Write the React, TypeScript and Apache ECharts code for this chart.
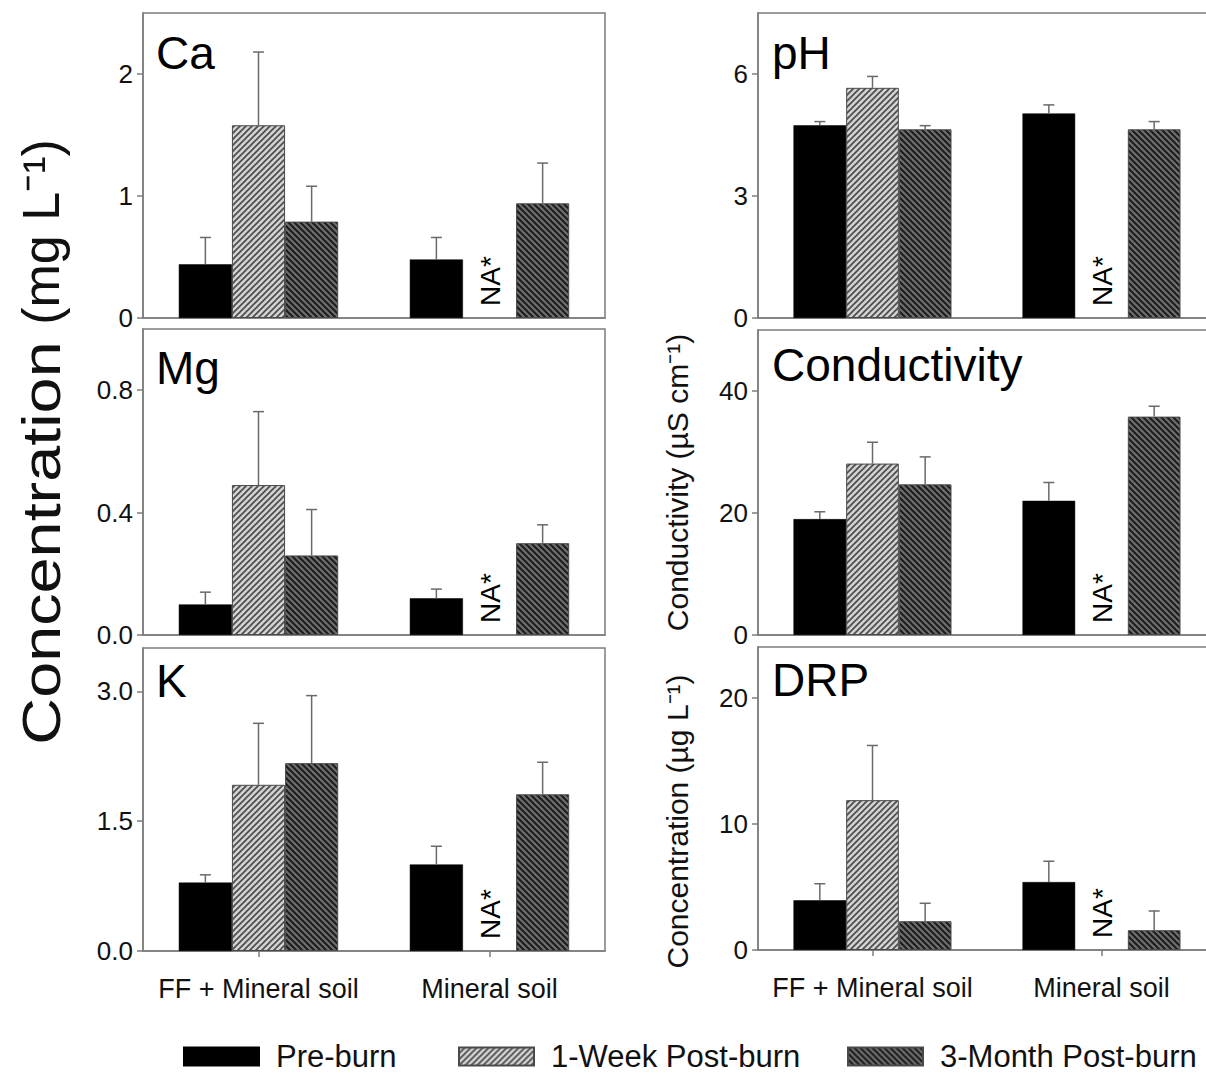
import React, { useEffect, useRef } from 'react';
import * as echarts from 'echarts';

// ---------- data ----------
const categories = ['FF + Mineral soil', 'Mineral soil'];
const treatments = ['Pre-burn', '1-Week Post-burn', '3-Month Post-burn'];

// rows: [Pre-burn, 1-Week, 3-Month]; columns: [FF + Mineral soil, Mineral soil]
const caMean = [[0.44, 0.48], [1.58, null], [0.79, 0.94]];
const caErr = [[0.22, 0.18], [0.60, null], [0.29, 0.33]];
const mgMean = [[0.10, 0.12], [0.49, null], [0.26, 0.30]];
const mgErr = [[0.04, 0.03], [0.24, null], [0.15, 0.06]];
const kMean = [[0.79, 1.00], [1.92, null], [2.17, 1.81]];
const kErr = [[0.09, 0.21], [0.71, null], [0.78, 0.37]];
const phMean = [[4.74, 5.03], [5.66, null], [4.64, 4.64]];
const phErr = [[0.09, 0.21], [0.28, null], [0.09, 0.19]];
const condMean = [[19.0, 22.0], [28.1, null], [24.7, 35.8]];
const condErr = [[1.2, 3.0], [3.5, null], [4.5, 1.7]];
const drpMean = [[3.94, 5.38], [11.87, null], [2.28, 1.57]];
const drpErr = [[1.31, 1.65], [4.33, null], [1.42, 1.52]];

const caTicks = [0, 1, 2];
const mgTicks = [0, 0.4, 0.8];
const kTicks = [0, 1.5, 3];
const phTicks = [0, 3, 6];
const condTicks = [0, 20, 40];
const drpTicks = [0, 10, 20];

const FONT = '"Liberation Sans", Arial, Helvetica, sans-serif';
const AXIS_COLOR = '#7c7c7c';

function makeHatch(bg: string, fg: string, dir: string, size: number, lw: number) {
  const c = document.createElement('canvas');
  c.width = size;
  c.height = size;
  const g = c.getContext('2d')!;
  g.fillStyle = bg;
  g.fillRect(0, 0, size, size);
  g.strokeStyle = fg;
  g.lineWidth = lw;
  for (let k = -1; k <= 1; k++) {
    g.beginPath();
    if (dir === '/') {
      g.moveTo(k * size - 1, size + 1);
      g.lineTo(k * size + size + 1, -1);
    } else {
      g.moveTo(k * size - 1, -1);
      g.lineTo(k * size + size + 1, size + 1);
    }
    g.stroke();
  }
  return c;
}

export default function App() {
  const ref = useRef<HTMLDivElement>(null);

  useEffect(() => {
    document.body.style.margin = '0';
    const chart = echarts.init(ref.current!, undefined, { renderer: 'svg' });

    const weekPattern = { image: makeHatch('#d2d2d2', '#4a4a4a', '/', 6, 1.6), repeat: 'repeat' };
    const monthPattern = { image: makeHatch('#6e6e6e', '#1c1c1c', '\\', 6, 2), repeat: 'repeat' };
    const barStyles = [
      { color: '#000000', borderColor: '#000000', borderWidth: 0.5 },
      { color: weekPattern, borderColor: '#4a4a4a', borderWidth: 1 },
      { color: monthPattern, borderColor: '#4a4a4a', borderWidth: 1 },
    ];

    const panels = [
      { title: 'Ca', mean: caMean, err: caErr, ticks: caTicks, max: 2.5, digits: 0, left: 143, top: 13, width: 462, height: 305, bottom: false, tx: 156, ty: 30, name: '' },
      { title: 'Mg', mean: mgMean, err: mgErr, ticks: mgTicks, max: 1.0, digits: 1, left: 143, top: 329, width: 462, height: 306, bottom: false, tx: 156, ty: 345, name: '' },
      { title: 'K', mean: kMean, err: kErr, ticks: kTicks, max: 3.5, digits: 1, left: 143, top: 648, width: 462, height: 303, bottom: true, tx: 156, ty: 658, name: '' },
      { title: 'pH', mean: phMean, err: phErr, ticks: phTicks, max: 7.5, digits: 0, left: 758, top: 13, width: 458, height: 305, bottom: false, tx: 772, ty: 30, name: '' },
      { title: 'Conductivity', mean: condMean, err: condErr, ticks: condTicks, max: 50, digits: 0, left: 758, top: 330, width: 458, height: 305, bottom: false, tx: 772, ty: 342, name: 'Conductivity (µS cm⁻¹)', namePad: [0, 0, 0, 0] },
      { title: 'DRP', mean: drpMean, err: drpErr, ticks: drpTicks, max: 24, digits: 0, left: 758, top: 647, width: 458, height: 303, bottom: true, tx: 772, ty: 657, name: 'Concentration (µg L⁻¹)', namePad: [0, 46, 0, 0] },
    ];

    const lineStyle = { color: AXIS_COLOR, width: 1.5 };

    const series: any[] = [];
    panels.forEach((p, i) => {
      for (let t = 0; t < 3; t++) {
        series.push({
          type: 'bar',
          name: treatments[t],
          xAxisIndex: i,
          yAxisIndex: i,
          data: p.mean[t].map((v) => (v == null ? '-' : v)),
          barWidth: '23%',
          barGap: '0%',
          itemStyle: barStyles[t],
          z: 2,
          silent: true,
        });
      }
      const errData: number[][] = [];
      for (let t = 0; t < 3; t++) {
        p.mean[t].forEach((v, c) => {
          if (v != null) errData.push([c, v, p.err[t][c] as number, t]);
        });
      }
      series.push({
        type: 'custom',
        xAxisIndex: i,
        yAxisIndex: i,
        data: errData,
        z: 3,
        silent: true,
        renderItem: (params: any, api: any) => {
          const cat = api.value(0);
          const m = api.value(1);
          const e = api.value(2);
          const t = api.value(3);
          const band = api.size([1, 0])[0];
          const dx = (t - 1) * band * 0.23;
          const p0 = api.coord([cat, m]);
          const p1 = api.coord([cat, m + e]);
          const x = p0[0] + dx;
          const st = { stroke: '#6a6a6a', lineWidth: 1.5 };
          return {
            type: 'group',
            children: [
              { type: 'line', shape: { x1: x, y1: p0[1], x2: x, y2: p1[1] }, style: st },
              { type: 'line', shape: { x1: x - 5.5, y1: p1[1], x2: x + 5.5, y2: p1[1] }, style: st },
            ],
          };
        },
      });
      const naData: number[][] = [];
      p.mean[1].forEach((v, c) => {
        if (v == null) naData.push([c, 0]);
      });
      series.push({
        type: 'custom',
        xAxisIndex: i,
        yAxisIndex: i,
        data: naData,
        z: 4,
        silent: true,
        renderItem: (params: any, api: any) => {
          const pt = api.coord([api.value(0), api.value(1)]);
          return {
            type: 'text',
            x: pt[0] + 1,
            y: pt[1] - 12,
            rotation: Math.PI / 2,
            style: {
              text: 'NA*',
              fontSize: 28,
              fontFamily: FONT,
              fill: '#000',
              align: 'left',
              verticalAlign: 'middle',
            },
          };
        },
      });
    });

    const legendLefts = [183, 458, 847];

    const option: any = {
      animation: false,
      backgroundColor: '#ffffff',
      textStyle: { fontFamily: FONT },
      title: panels.map((p) => ({
        text: p.title,
        left: p.tx,
        top: p.ty,
        padding: 0,
        textStyle: { fontSize: 46, fontWeight: 'normal', color: '#000', fontFamily: FONT },
      })),
      grid: panels.map((p) => ({
        left: p.left,
        top: p.top,
        width: p.width,
        height: p.height,
        show: true,
        borderColor: AXIS_COLOR,
        borderWidth: 1.5,
        backgroundColor: 'transparent',
        containLabel: false,
        outerBoundsMode: 'none',
      })),
      xAxis: panels.map((p, i) => ({
        type: 'category',
        gridIndex: i,
        data: categories,
        boundaryGap: true,
        axisLine: { show: true, lineStyle },
        axisTick: { show: p.bottom, alignWithLabel: true, interval: 0, length: 6, lineStyle },
        axisLabel: { show: p.bottom, interval: 0, hideOverlap: false, fontSize: 27, color: '#111', margin: 24, fontFamily: FONT },
        splitLine: { show: false },
      })),
      yAxis: panels.map((p, i) => ({
        type: 'value',
        gridIndex: i,
        min: 0,
        max: p.max,
        axisLine: { show: true, lineStyle },
        axisTick: { show: true, length: 6, lineStyle, customValues: p.ticks },
        axisLabel: {
          customValues: p.ticks,
          formatter: (v: number) => v.toFixed(p.digits),
          fontSize: 26,
          color: '#111',
          margin: 10,
          fontFamily: FONT,
        },
        splitLine: { show: false },
        name: p.name,
        nameLocation: 'middle',
        nameRotate: 90,
        nameGap: 66,
        nameTextStyle: { fontSize: 30, color: '#111', fontFamily: FONT, padding: (p as any).namePad || 0 },
      })),
      legend: treatments.map((t, i) => ({
        data: [t],
        left: legendLefts[i],
        top: 1041,
        padding: 0,
        itemWidth: 75,
        itemHeight: 18,
        icon: 'rect',
        selectedMode: false,
        textStyle: { fontSize: 31, color: '#111', fontFamily: FONT, padding: [0, 0, 0, 12] },
      })),
      graphic: [
        {
          type: 'text',
          x: 41,
          y: 543,
          rotation: Math.PI / 2,
          scaleX: 1.2,
          style: { text: 'Concentration', fontSize: 54, fontFamily: FONT, fill: '#111', align: 'center', verticalAlign: 'middle' },
        },
        {
          type: 'text',
          x: 41,
          y: 232,
          rotation: Math.PI / 2,
          style: { text: '(mg L⁻¹)', fontSize: 52, fontFamily: FONT, fill: '#111', align: 'center', verticalAlign: 'middle' },
        },
      ],
      series,
    };

    chart.setOption(option);
    return () => chart.dispose();
  }, []);

  return <div ref={ref} style={{ position: 'absolute', left: 0, top: 0, width: 1206, height: 1074 }} />;
}
